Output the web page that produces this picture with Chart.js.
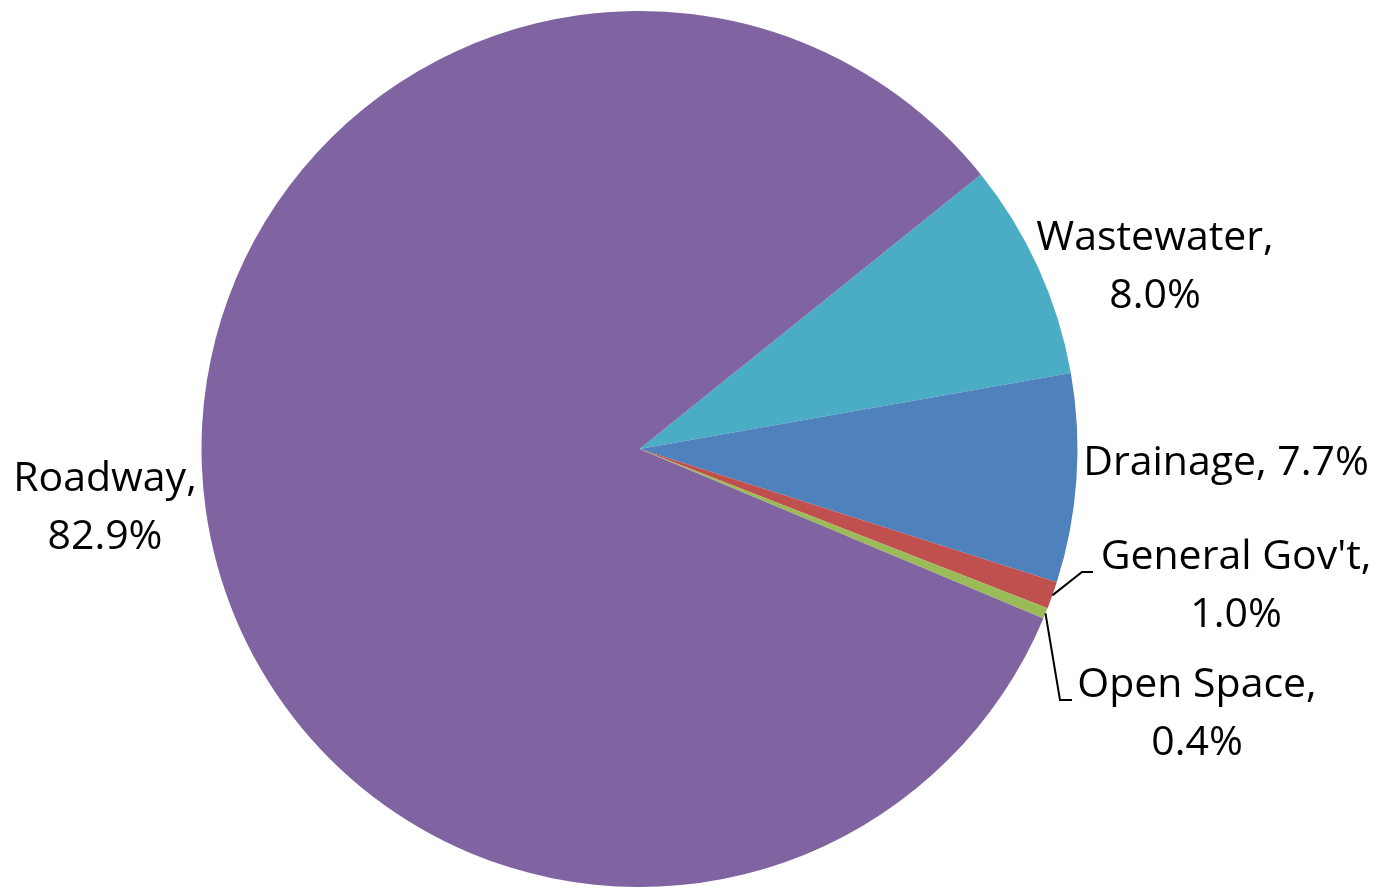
<!DOCTYPE html>
<html>
<head>
<meta charset="utf-8">
<script src="https://cdn.jsdelivr.net/npm/chart.js@4"></script>
<style>
html,body{margin:0;padding:0;background:#fff;}
#wrap{width:1384px;height:888px;position:relative;}
</style>
</head>
<body>
<div id="wrap"><canvas id="c" width="1384" height="888"></canvas></div>
<script>
const categories = ["Wastewater", "Drainage", "General Gov't", "Open Space", "Roadway"];
const values = [8.0, 7.7, 1.0, 0.4, 82.9];
const valueLabels = ["8.0%", "7.7%", "1.0%", "0.4%", "82.9%"];
const colors = ["#4BACC6", "#4F81BD", "#C0504D", "#9BBB59", "#8064A2"];

// label layout per slice: text lines, anchor position, optional leader line
const labelLayout = [
  {lines: [categories[0] + ",", valueLabels[0]], x: 1155, y: 238, lh: 58},
  {lines: [categories[1] + ", " + valueLabels[1]], x: 1226, y: 463, lh: 58},
  {lines: [categories[2] + ",", valueLabels[2]], x: 1236, y: 557, lh: 58, leader: [[1082, 572], [1093, 572]]},
  {lines: [categories[3] + ",", valueLabels[3]], x: 1197, y: 685, lh: 58, leader: [[1060, 700], [1072, 700]]},
  {lines: [categories[4] + ",", valueLabels[4]], x: 105, y: 479, lh: 58}
];

const labelPlugin = {
  id: 'outLabels',
  afterDraw(chart) {
    const ctx = chart.ctx;
    const meta = chart.getDatasetMeta(0);
    ctx.save();
    ctx.font = '41px "Open Sans", Lato, sans-serif';
    ctx.fillStyle = '#000';
    ctx.textAlign = 'center';
    ctx.textBaseline = 'middle';
    meta.data.forEach((arc, i) => {
      const L = labelLayout[i];
      if (L.leader) {
        const mid = (arc.startAngle + arc.endAngle) / 2;
        const sx = arc.x + Math.cos(mid) * arc.outerRadius;
        const sy = arc.y + Math.sin(mid) * arc.outerRadius;
        ctx.beginPath();
        ctx.strokeStyle = '#000';
        ctx.lineWidth = 2;
        ctx.moveTo(sx, sy);
        L.leader.forEach(p => ctx.lineTo(p[0], p[1]));
        ctx.stroke();
      }
      L.lines.forEach((t, k) => ctx.fillText(t, L.x, L.y + k * L.lh));
    });
    ctx.restore();
  }
};

new Chart(document.getElementById('c'), {
  type: 'pie',
  data: {
    labels: categories,
    datasets: [{
      data: values,
      backgroundColor: colors,
      borderWidth: 0
    }]
  },
  options: {
    responsive: false,
    animation: false,
    rotation: 51.2,
    layout: {padding: {left: 201, right: 306, top: 11, bottom: 1}},
    plugins: {legend: {display: false}, tooltip: {enabled: false}}
  },
  plugins: [labelPlugin]
});
</script>
</body>
</html>
